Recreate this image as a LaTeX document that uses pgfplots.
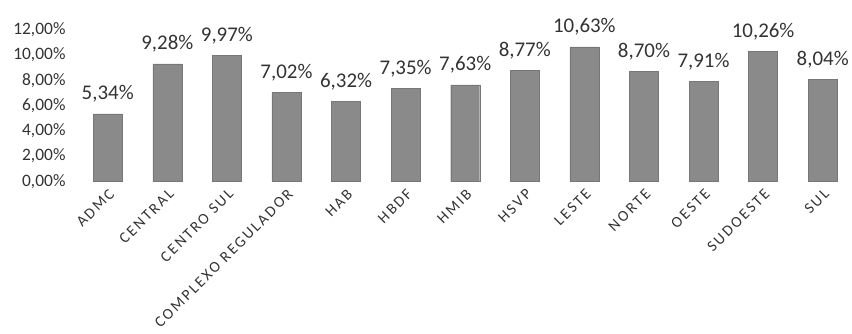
\documentclass[border=0pt]{standalone}
\usepackage{fontspec}
\setmainfont{Carlito}
\newfontfamily\spaced[LetterSpace=14]{Carlito}
\usepackage{pgfplots}
\pgfplotsset{compat=1.18}
\definecolor{barfill}{HTML}{8A8A8A}
\definecolor{baredge}{HTML}{777777}
\definecolor{txt}{HTML}{333333}
\begin{document}
\begin{tikzpicture}
\begin{axis}[
  scale only axis,
  width=775bp, height=177.3bp,
  xmin=-0.55, xmax=12.45,
  ymin=0, ymax=14,
  axis line style={draw=none},
  ytick={0,2,4,6,8,10,12},
  xtick={0,...,12},
  xticklabels={ADMC,CENTRAL,CENTRO SUL,COMPLEXO REGULADOR,HAB,HBDF,HMIB,HSVP,LESTE,NORTE,OESTE,SUDOESTE,SUL},
  /pgf/number format/assume math mode=true,
  yticklabel={\pgfmathprintnumber[fixed,fixed zerofill,precision=2,use comma]{\tick}\%},
  yticklabel style={font=\fontsize{17.5}{18}\selectfont, text=txt, anchor=east, xshift=-6bp},
  xticklabel style={font=\spaced\fontsize{15.5}{16}\selectfont, text=txt, rotate=45, anchor=east, yshift=-7bp, xshift=2bp},
  tick style={draw=none},
  clip=false,
  ybar, bar width=29bp,
  nodes near coords={\pgfmathprintnumber[fixed,fixed zerofill,precision=2,use comma]{\pgfplotspointmeta}\%},
  nodes near coords style={font=\fontsize{21}{21}\selectfont, text=txt, yshift=8bp},
]
\addplot[fill=barfill, draw=baredge] coordinates {
(0,5.34) (1,9.28) (2,9.97) (3,7.02) (4,6.32) (5,7.35) (6,7.63) (7,8.77) (8,10.63) (9,8.70) (10,7.91) (11,10.26) (12,8.04)
};
\end{axis}
\path (current bounding box.south west) ++(-10bp,0);
\end{tikzpicture}
\end{document}
